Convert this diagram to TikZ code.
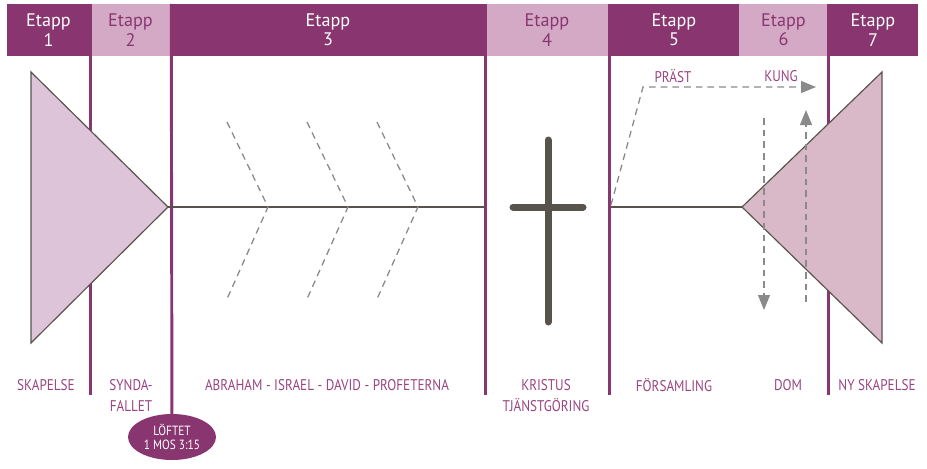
\documentclass[tikz,border=0pt]{standalone}
\usepackage{fontspec}
\setmainfont{PT Sans}
\newfontfamily\narrowfont[FakeStretch=0.85]{PT Sans}
\usepackage{tikz}
\usetikzlibrary{positioning,arrows.meta,shapes.geometric}
\definecolor{plum}{RGB}{137,54,112}
\definecolor{lilac}{RGB}{211,169,197}
\definecolor{paleplum}{RGB}{222,196,216}
\definecolor{rose}{RGB}{217,185,200}
\definecolor{ink}{RGB}{88,84,76}
\definecolor{guidegrey}{RGB}{138,138,138}
\definecolor{labelpurple}{RGB}{152,68,128}

\tikzset{
  etappbox/.style={rectangle, inner sep=0pt, minimum height=1.56cm, align=center, font=\fontsize{15.5}{16.5}\selectfont},
  sep/.style={plum, line width=2.5pt},
  guideline/.style={guidegrey, line width=1.1pt, dash pattern=on 0.2cm off 0.15cm},
  stagelabel/.style={labelpurple, align=center, font=\narrowfont\fontsize{13.2}{18}\selectfont}
}

\begin{document}
\begin{tikzpicture}[x=0.03cm, y=-0.03cm]
\useasboundingbox (0,0) rectangle (927,468);
% header
\node[etappbox, fill=plum, text=white, minimum width=2.49cm] (e1) at (48.5,30) {Etapp\\1};
\node[etappbox, fill=lilac, text=plum, minimum width=2.43cm] (e2) at (130.5,30) {Etapp\\2};
\node[etappbox, fill=plum, text=white, minimum width=9.42cm] (e3) at (328,30) {Etapp\\3};
\node[etappbox, fill=lilac, text=plum, minimum width=3.72cm] (e4) at (547,30) {Etapp\\4};
\node[etappbox, fill=plum, text=white, minimum width=3.9cm] (e5) at (674,30) {Etapp\\5};
\node[etappbox, fill=lilac, text=plum, minimum width=2.67cm] (e6) at (783.5,30) {Etapp\\6};
\node[etappbox, fill=plum, text=white, minimum width=2.7cm] (e7) at (873,30) {Etapp\\7};
\node[ellipse, fill=plum, text=white, inner sep=0pt, minimum width=2.64cm, minimum height=1.38cm, align=center, font=\narrowfont\fontsize{11.4}{12.5}\selectfont] (promise) at (172,437) {LÖFTET\\1 MOS 3:15};
% stage borders
\draw[sep] (e1.north east) -- ++(0,391);
\draw[sep] (e2.north east) -- (promise);
\draw[sep] (e3.north east) -- ++(0,391);
\draw[sep] (e4.north east) -- ++(0,391);
\draw[sep] (e6.north east) -- ++(0,391);
% creation and new creation
\coordinate (tipL) at (168,207);
\coordinate (tipR) at (742,207);
\filldraw[fill=paleplum, draw=ink, line width=1pt] (31,72) -- (tipL) -- (31,343) -- cycle;
\filldraw[fill=rose, draw=ink, line width=1pt] (882,72) -- (tipR) -- (882,343) -- cycle;
\draw[ink, line width=1.2pt] (tipL) -- (485,207);
\draw[ink, line width=1.2pt] (611,207) -- (tipR);
% covenants
\draw[guideline] (227,122) -- ++(41,85) -- ++(-41,92);
\draw[guideline] (307,122) -- ++(41,85) -- ++(-41,92);
\draw[guideline] (377,122) -- ++(41,85) -- ++(-41,92);
% cross
\draw[ink, line width=0.21cm, line cap=round] (548,140) -- (548,322);
\draw[ink, line width=0.21cm, line cap=round] (513,207) -- (583,207);
% priest, king, judgement
\coordinate (church) at (611,205);
\coordinate (bend) at (643,87);
\coordinate (king) at (816,87);
\draw[guideline, -{Triangle[length=0.45cm, width=0.36cm]}] (church) -- (bend) -- (king);
\draw[guideline, -{Triangle[length=0.45cm, width=0.36cm]}] (764,118) -- (764,310);
\draw[guideline, -{Triangle[length=0.45cm, width=0.36cm]}] (806,302) -- (806,110);
\node[stagelabel] (priest) at (673,76) {PRÄST};
\node[stagelabel] (kung) at (781,76) {KUNG};
% stage names
\node[stagelabel] (l1) at (46,385) {SKAPELSE};
\node[stagelabel] (l2) at (131,395.5) {SYNDA-\\FALLET};
\node[stagelabel] (l3) at (327,385) {ABRAHAM - ISRAEL - DAVID - PROFETERNA};
\node[stagelabel] (l4) at (546,395.5) {KRISTUS\\TJÄNSTGÖRING};
\node[stagelabel] (l5) at (674,385) {FÖRSAMLING};
\node[stagelabel] (l6) at (788,385) {DOM};
\node[stagelabel] (l7) at (877,385) {NY SKAPELSE};
\end{tikzpicture}
\end{document}
